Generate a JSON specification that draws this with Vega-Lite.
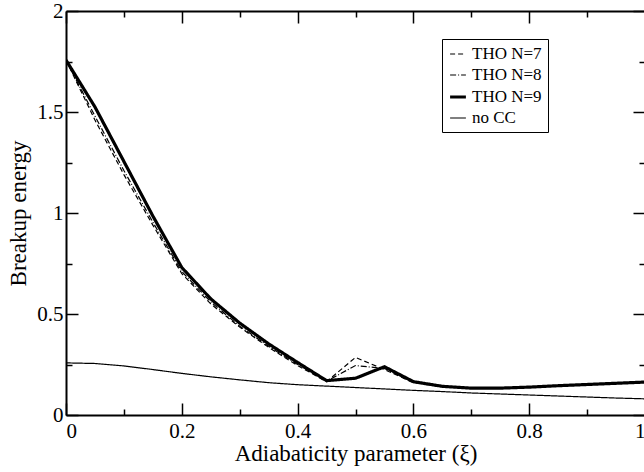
{
  "$schema": "https://vega.github.io/schema/vega-lite/v6.json",
  "width": 579,
  "height": 404,
  "autosize": {"type": "none"},
  "padding": {"left": 66, "top": 11, "right": 0, "bottom": 57},
  "background": "white",
  "config": {
    "font": "Liberation Serif",
    "view": {"stroke": null},
    "axis": {
      "labelFont": "Liberation Serif",
      "labelFontSize": 21,
      "labelColor": "black",
      "titleFont": "Liberation Serif",
      "titleFontSize": 23,
      "titleFontWeight": "normal",
      "titleColor": "black",
      "domainColor": "black",
      "domainWidth": 2,
      "tickColor": "black",
      "tickWidth": 1.5,
      "grid": false
    },
    "legend": {
      "orient": "none",
      "legendX": 376,
      "legendY": 28,
      "strokeColor": "black",
      "fillColor": "white",
      "padding": 6,
      "symbolType": "stroke",
      "symbolStrokeColor": "black",
      "symbolSize": 250,
      "labelFont": "Liberation Serif",
      "labelFontSize": 17,
      "labelColor": "black",
      "rowPadding": 4,
      "cornerRadius": 0
    }
  },
  "data": {
    "values": [
      {"xi": 0.0, "E": 1.757, "s": "THO N=9"},
      {"xi": 0.05, "E": 1.525, "s": "THO N=9"},
      {"xi": 0.1, "E": 1.255, "s": "THO N=9"},
      {"xi": 0.15, "E": 0.985, "s": "THO N=9"},
      {"xi": 0.2, "E": 0.73, "s": "THO N=9"},
      {"xi": 0.25, "E": 0.575, "s": "THO N=9"},
      {"xi": 0.3, "E": 0.455, "s": "THO N=9"},
      {"xi": 0.35, "E": 0.352, "s": "THO N=9"},
      {"xi": 0.4, "E": 0.26, "s": "THO N=9"},
      {"xi": 0.45, "E": 0.17, "s": "THO N=9"},
      {"xi": 0.5, "E": 0.182, "s": "THO N=9"},
      {"xi": 0.55, "E": 0.239, "s": "THO N=9"},
      {"xi": 0.6, "E": 0.165, "s": "THO N=9"},
      {"xi": 0.65, "E": 0.142, "s": "THO N=9"},
      {"xi": 0.7, "E": 0.133, "s": "THO N=9"},
      {"xi": 0.75, "E": 0.133, "s": "THO N=9"},
      {"xi": 0.8, "E": 0.138, "s": "THO N=9"},
      {"xi": 0.85, "E": 0.145, "s": "THO N=9"},
      {"xi": 0.9, "E": 0.151, "s": "THO N=9"},
      {"xi": 0.95, "E": 0.157, "s": "THO N=9"},
      {"xi": 1.0, "E": 0.163, "s": "THO N=9"},
      {"xi": 0.0, "E": 1.757, "s": "THO N=7"},
      {"xi": 0.05, "E": 1.46, "s": "THO N=7"},
      {"xi": 0.1, "E": 1.19, "s": "THO N=7"},
      {"xi": 0.15, "E": 0.94, "s": "THO N=7"},
      {"xi": 0.2, "E": 0.7, "s": "THO N=7"},
      {"xi": 0.25, "E": 0.55, "s": "THO N=7"},
      {"xi": 0.3, "E": 0.435, "s": "THO N=7"},
      {"xi": 0.35, "E": 0.335, "s": "THO N=7"},
      {"xi": 0.4, "E": 0.245, "s": "THO N=7"},
      {"xi": 0.45, "E": 0.165, "s": "THO N=7"},
      {"xi": 0.5, "E": 0.285, "s": "THO N=7"},
      {"xi": 0.55, "E": 0.225, "s": "THO N=7"},
      {"xi": 0.6, "E": 0.16, "s": "THO N=7"},
      {"xi": 0.65, "E": 0.14, "s": "THO N=7"},
      {"xi": 0.7, "E": 0.133, "s": "THO N=7"},
      {"xi": 0.75, "E": 0.133, "s": "THO N=7"},
      {"xi": 0.8, "E": 0.138, "s": "THO N=7"},
      {"xi": 0.85, "E": 0.145, "s": "THO N=7"},
      {"xi": 0.9, "E": 0.151, "s": "THO N=7"},
      {"xi": 0.95, "E": 0.157, "s": "THO N=7"},
      {"xi": 1.0, "E": 0.163, "s": "THO N=7"},
      {"xi": 0.0, "E": 1.757, "s": "THO N=8"},
      {"xi": 0.05, "E": 1.48, "s": "THO N=8"},
      {"xi": 0.1, "E": 1.21, "s": "THO N=8"},
      {"xi": 0.15, "E": 0.955, "s": "THO N=8"},
      {"xi": 0.2, "E": 0.71, "s": "THO N=8"},
      {"xi": 0.25, "E": 0.56, "s": "THO N=8"},
      {"xi": 0.3, "E": 0.44, "s": "THO N=8"},
      {"xi": 0.35, "E": 0.34, "s": "THO N=8"},
      {"xi": 0.4, "E": 0.25, "s": "THO N=8"},
      {"xi": 0.45, "E": 0.167, "s": "THO N=8"},
      {"xi": 0.5, "E": 0.245, "s": "THO N=8"},
      {"xi": 0.55, "E": 0.23, "s": "THO N=8"},
      {"xi": 0.6, "E": 0.162, "s": "THO N=8"},
      {"xi": 0.65, "E": 0.141, "s": "THO N=8"},
      {"xi": 0.7, "E": 0.133, "s": "THO N=8"},
      {"xi": 0.75, "E": 0.133, "s": "THO N=8"},
      {"xi": 0.8, "E": 0.138, "s": "THO N=8"},
      {"xi": 0.85, "E": 0.145, "s": "THO N=8"},
      {"xi": 0.9, "E": 0.151, "s": "THO N=8"},
      {"xi": 0.95, "E": 0.157, "s": "THO N=8"},
      {"xi": 1.0, "E": 0.163, "s": "THO N=8"},
      {"xi": 0.0, "E": 0.258, "s": "no CC"},
      {"xi": 0.05, "E": 0.255, "s": "no CC"},
      {"xi": 0.1, "E": 0.243, "s": "no CC"},
      {"xi": 0.15, "E": 0.225, "s": "no CC"},
      {"xi": 0.2, "E": 0.206, "s": "no CC"},
      {"xi": 0.25, "E": 0.189, "s": "no CC"},
      {"xi": 0.3, "E": 0.174, "s": "no CC"},
      {"xi": 0.35, "E": 0.16, "s": "no CC"},
      {"xi": 0.4, "E": 0.15, "s": "no CC"},
      {"xi": 0.45, "E": 0.143, "s": "no CC"},
      {"xi": 0.5, "E": 0.136, "s": "no CC"},
      {"xi": 0.55, "E": 0.129, "s": "no CC"},
      {"xi": 0.6, "E": 0.122, "s": "no CC"},
      {"xi": 0.65, "E": 0.116, "s": "no CC"},
      {"xi": 0.7, "E": 0.109, "s": "no CC"},
      {"xi": 0.75, "E": 0.104, "s": "no CC"},
      {"xi": 0.8, "E": 0.099, "s": "no CC"},
      {"xi": 0.85, "E": 0.094, "s": "no CC"},
      {"xi": 0.9, "E": 0.089, "s": "no CC"},
      {"xi": 0.95, "E": 0.084, "s": "no CC"},
      {"xi": 1.0, "E": 0.08, "s": "no CC"}
    ]
  },
  "resolve": {"axis": {"x": "independent", "y": "independent"}},
  "layer": [
    {
      "mark": {"type": "line", "color": "black", "clip": true},
      "encoding": {
        "x": {
          "field": "xi", "type": "quantitative",
          "scale": {"domain": [0, 1], "nice": false},
          "axis": {
            "title": "Adiabaticity parameter (ξ)",
            "values": [0, 0.1, 0.2, 0.3, 0.4, 0.5, 0.6, 0.7, 0.8, 0.9, 1],
            "format": "~g",
            "labelExpr": "round(datum.value*10) % 2 === 0 ? datum.label : ''",
            "tickSize": {"condition": {"test": "round(datum.value*10) % 2 === 0", "value": -12}, "value": -6},
            "labelPadding": 17,
            "titlePadding": 1
          }
        },
        "y": {
          "field": "E", "type": "quantitative",
          "scale": {"domain": [0, 2], "nice": false},
          "axis": {
            "title": "Breakup energy",
            "values": [0, 0.25, 0.5, 0.75, 1, 1.25, 1.5, 1.75, 2],
            "format": "~g",
            "labelExpr": "(datum.value*2) % 1 === 0 ? datum.label : ''",
            "tickSize": {"condition": {"test": "(datum.value*2) % 1 === 0", "value": -12}, "value": -6},
            "labelPadding": 15,
            "titlePadding": 6
          }
        },
        "strokeDash": {
          "field": "s", "type": "nominal",
          "scale": {"domain": ["THO N=7", "THO N=8", "THO N=9", "no CC"], "range": [[5, 3], [6, 2, 1, 2], [1, 0], [1, 0]]},
          "legend": {"title": null}
        },
        "strokeWidth": {
          "field": "s", "type": "nominal",
          "scale": {"type": "ordinal", "domain": ["THO N=7", "THO N=8", "THO N=9", "no CC"], "range": [1.2, 1.2, 3.2, 1.2]},
          "legend": {"title": null}
        }
      }
    },
    {
      "mark": {"type": "point", "opacity": 0},
      "encoding": {
        "x": {
          "field": "xi", "type": "quantitative",
          "axis": {
            "orient": "top", "title": null, "labels": false,
            "values": [0, 0.1, 0.2, 0.3, 0.4, 0.5, 0.6, 0.7, 0.8, 0.9, 1],
            "tickSize": {"condition": {"test": "round(datum.value*10) % 2 === 0", "value": -12}, "value": -6}
          }
        },
        "y": {
          "field": "E", "type": "quantitative",
          "axis": {
            "orient": "right", "title": null, "labels": false,
            "values": [0, 0.25, 0.5, 0.75, 1, 1.25, 1.5, 1.75, 2],
            "tickSize": {"condition": {"test": "(datum.value*2) % 1 === 0", "value": -12}, "value": -6}
          }
        }
      }
    }
  ]
}
